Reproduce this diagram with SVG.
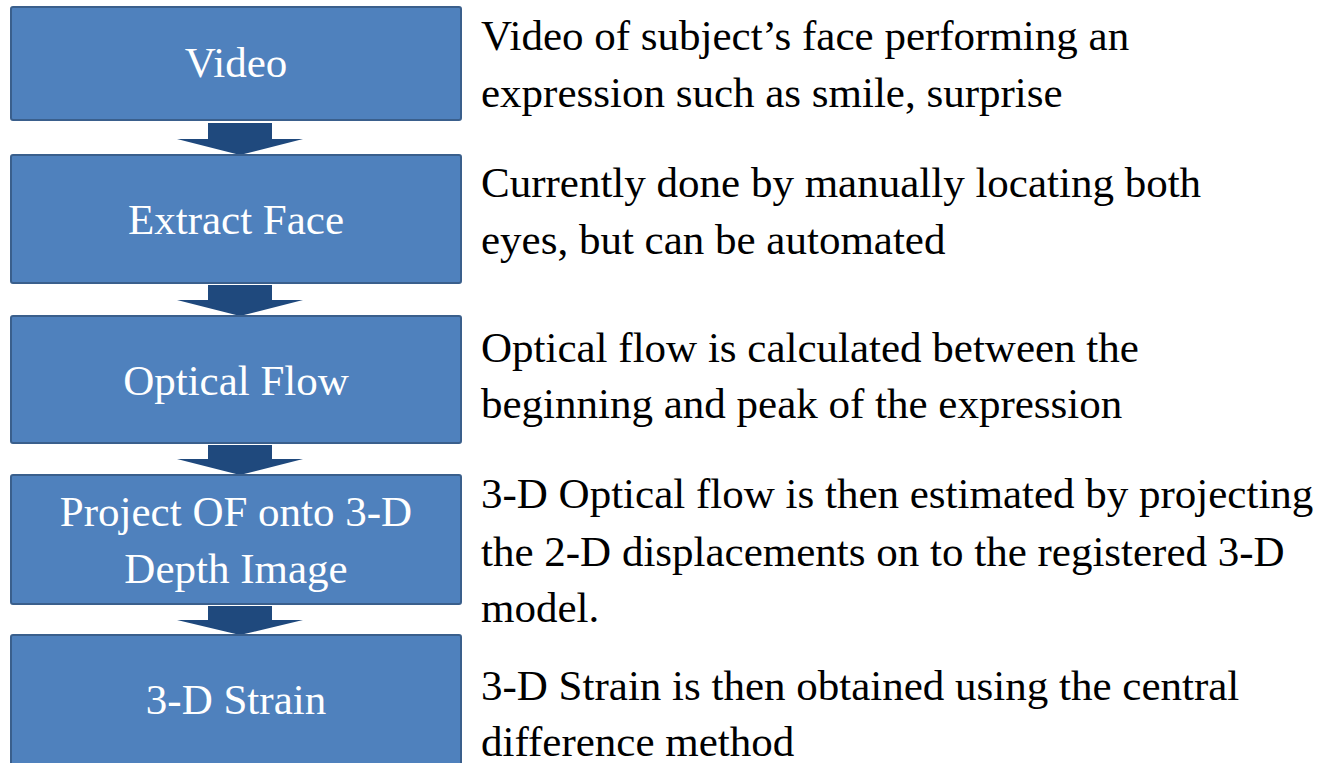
<svg xmlns="http://www.w3.org/2000/svg" width="1326" height="763" viewBox="0 0 1326 763">
<style>
.box{fill:#4F81BD;stroke:#3A5F8C;stroke-width:2}
.lbl{font-family:"Liberation Serif",serif;font-size:43px;fill:#FFFFFF;text-anchor:middle}
.desc{font-family:"Liberation Serif",serif;font-size:43px;fill:#000000}
.arr{fill:#1F497D}
</style>
<rect width="1326" height="763" fill="#FFFFFF"/>
<g id="connectors">
<polygon class="arr" points="208,123 272,123 272,139 303,139 240,155 177,139 208,139"/>
<polygon class="arr" points="208,285 272,285 272,300 303,300 240,316 177,300 208,300"/>
<polygon class="arr" points="208,445 272,445 272,459 303,459 240,475 177,459 208,459"/>
<polygon class="arr" points="208,606 272,606 272,620 303,620 240,635 177,620 208,620"/>
</g>
<g id="node-video">
<rect class="box" x="11" y="7" width="450" height="113" rx="2"/>
<text class="lbl" x="236" y="77">Video</text>
</g>
<g id="node-extract">
<rect class="box" x="11" y="155" width="450" height="128" rx="2"/>
<text class="lbl" x="236" y="234">Extract Face</text>
</g>
<g id="node-optical">
<rect class="box" x="11" y="316" width="450" height="127" rx="2"/>
<text class="lbl" x="236" y="395">Optical Flow</text>
</g>
<g id="node-project">
<rect class="box" x="11" y="475" width="450" height="129" rx="2"/>
<text class="lbl" x="236" y="526">Project OF onto 3-D</text>
<text class="lbl" x="236" y="583">Depth Image</text>
</g>
<g id="node-strain">
<rect class="box" x="11" y="635" width="450" height="140" rx="2"/>
<text class="lbl" x="236" y="714">3-D Strain</text>
</g>
<g id="descriptions">
<text class="desc" x="481" y="50">Video of subject’s face performing an</text>
<text class="desc" x="481" y="107">expression such as smile, surprise</text>
<text class="desc" x="481" y="197">Currently done by manually locating both</text>
<text class="desc" x="481" y="254">eyes, but can be automated</text>
<text class="desc" x="481" y="362">Optical flow is calculated between the</text>
<text class="desc" x="481" y="418">beginning and peak of the expression</text>
<text class="desc" x="481" y="508">3-D Optical flow is then estimated by projecting</text>
<text class="desc" x="481" y="566">the 2-D displacements on to the registered 3-D</text>
<text class="desc" x="481" y="622">model.</text>
<text class="desc" x="481" y="700">3-D Strain is then obtained using the central</text>
<text class="desc" x="481" y="756">difference method</text>
</g>
</svg>
